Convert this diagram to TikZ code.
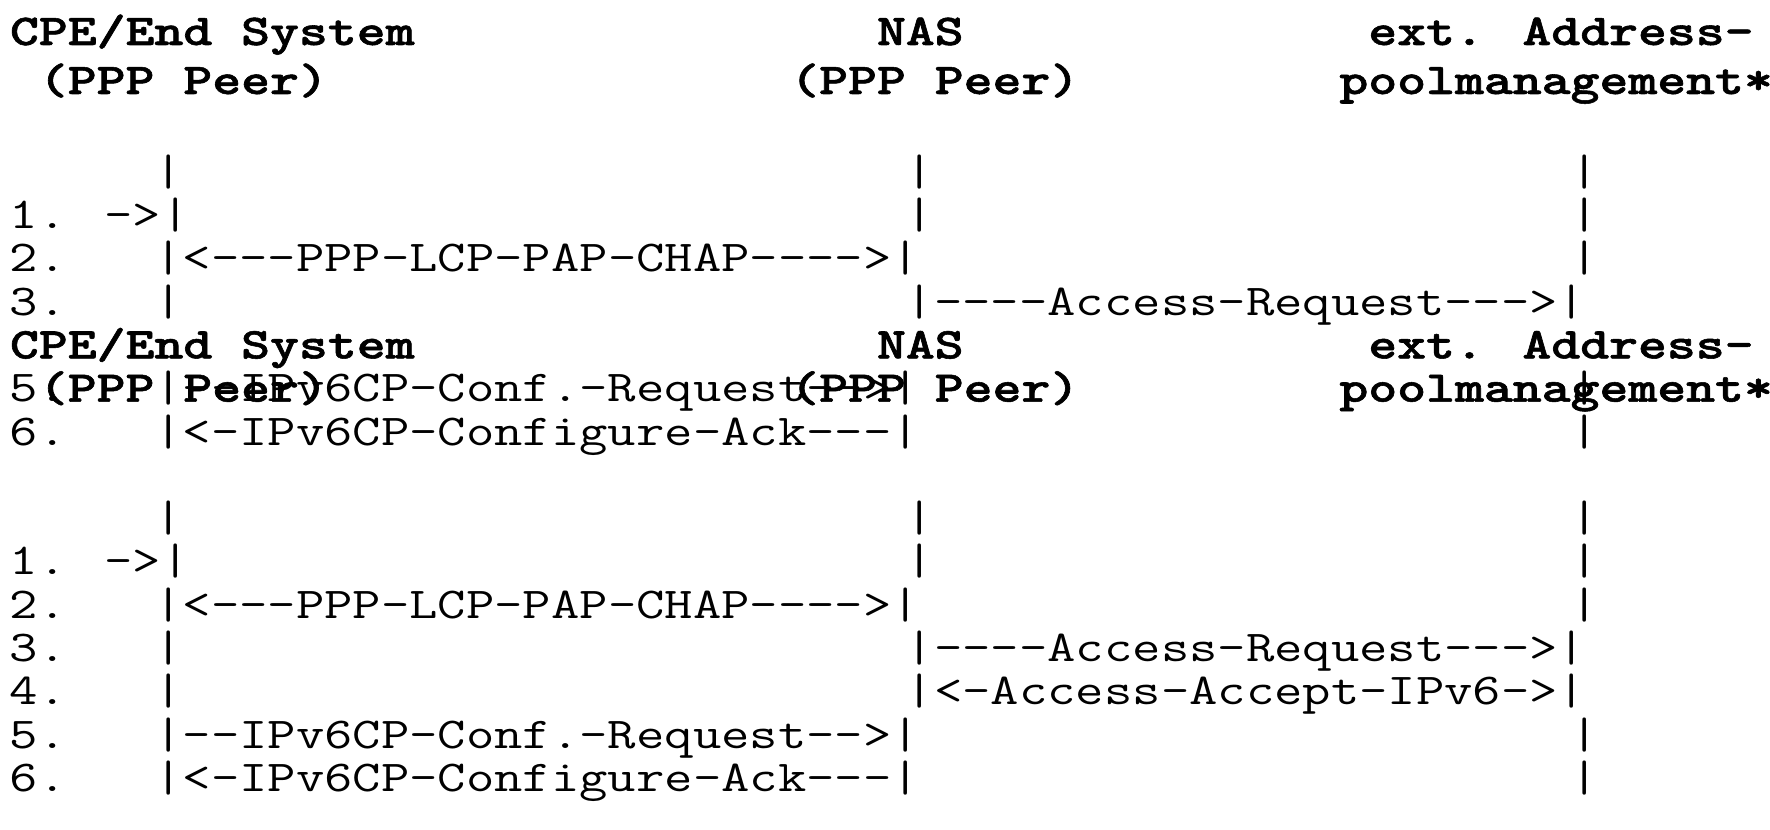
\documentclass[tikz,border=0pt]{standalone}
\usepackage{fontspec}
\usepackage{graphicx}
\newfontfamily\monofam{lmmono12-regular.otf}[BoldFont=lmmonolt10-bold.otf,BoldFeatures={FakeBold=1.2}]
\newcommand\vsc{0.8}
\tikzset{
  reg/.style={font=\monofam\fontsize{27.52pt}{30pt}\selectfont, inner sep=0pt, outer sep=0pt, anchor=base west, text=black},
  bld/.style={reg, font=\monofam\bfseries\fontsize{27.52pt}{30pt}\selectfont}
}
% #1 style, #2 name, #3 column, #4 row baseline (px), #5 text
\newcommand\seg[5]{\node[#1] (#2) at ({10+28.9*#3},#4) {\scalebox{1}[\vsc]{#5}};}
\begin{document}
\begin{tikzpicture}[x=0.5pt,y=-0.5pt]
\fill[white] (0,0) rectangle (1770,829);
\useasboundingbox (0,0) rectangle (1770,829);
% ---- top header
\seg{bld}{h0a}{0}{45}{CPE/End System}
\seg{bld}{h0b}{30}{45}{NAS}
\seg{bld}{h0c}{47}{45}{ext. Address-}
\seg{bld}{h1a}{1}{94}{(PPP Peer)}
\seg{bld}{h1b}{27}{94}{(PPP Peer)}
\seg{bld}{h1c}{46}{94}{poolmanagement*}
% ---- first block
\seg{reg}{a3a}{5}{185.2}{|}
\seg{reg}{a3b}{31}{185.2}{|}
\seg{reg}{a3c}{54}{185.2}{|}
\seg{reg}{a4a}{0}{228.5}{1. ->|}
\seg{reg}{a4b}{31}{228.5}{|}
\seg{reg}{a4c}{54}{228.5}{|}
\seg{reg}{a5a}{0}{271.8}{2.}
\seg{reg}{a5b}{5}{271.8}{|<---PPP-LCP-PAP-CHAP---->|}
\seg{reg}{a5c}{54}{271.8}{|}
\seg{reg}{a6a}{0}{315.1}{3.}
\seg{reg}{a6b}{5}{315.1}{|}
\seg{reg}{a6c}{31}{315.1}{|----Access-Request--->|}
\seg{bld}{a7a}{0}{358.4}{CPE/End System}
\seg{bld}{a7b}{30}{358.4}{NAS}
\seg{bld}{a7c}{47}{358.4}{ext. Address-}
\seg{reg}{a8a}{0}{401.7}{5.}
\seg{reg}{a8b}{5}{401.7}{|--IPv6CP-Conf.-Request-->|}
\seg{reg}{a8c}{54}{401.7}{|}
\seg{bld}{a8d}{1}{401.7}{(PPP Peer)}
\seg{bld}{a8e}{27}{401.7}{(PPP Peer)}
\seg{bld}{a8f}{46}{401.7}{poolmanagement*}
\seg{reg}{a9a}{0}{445}{6.}
\seg{reg}{a9b}{5}{445}{|<-IPv6CP-Configure-Ack---|}
\seg{reg}{a9c}{54}{445}{|}
% ---- second block
\seg{reg}{b1a}{5}{531.6}{|}
\seg{reg}{b1b}{31}{531.6}{|}
\seg{reg}{b1c}{54}{531.6}{|}
\seg{reg}{b2a}{0}{574.9}{1. ->|}
\seg{reg}{b2b}{31}{574.9}{|}
\seg{reg}{b2c}{54}{574.9}{|}
\seg{reg}{b3a}{0}{618.2}{2.}
\seg{reg}{b3b}{5}{618.2}{|<---PPP-LCP-PAP-CHAP---->|}
\seg{reg}{b3c}{54}{618.2}{|}
\seg{reg}{b4a}{0}{661.5}{3.}
\seg{reg}{b4b}{5}{661.5}{|}
\seg{reg}{b4c}{31}{661.5}{|----Access-Request--->|}
\seg{reg}{b5a}{0}{704.8}{4.}
\seg{reg}{b5b}{5}{704.8}{|}
\seg{reg}{b5c}{31}{704.8}{|<-Access-Accept-IPv6->|}
\seg{reg}{b6a}{0}{748.1}{5.}
\seg{reg}{b6b}{5}{748.1}{|--IPv6CP-Conf.-Request-->|}
\seg{reg}{b6c}{54}{748.1}{|}
\seg{reg}{b7a}{0}{791.4}{6.}
\seg{reg}{b7b}{5}{791.4}{|<-IPv6CP-Configure-Ack---|}
\seg{reg}{b7c}{54}{791.4}{|}
\end{tikzpicture}
\end{document}
